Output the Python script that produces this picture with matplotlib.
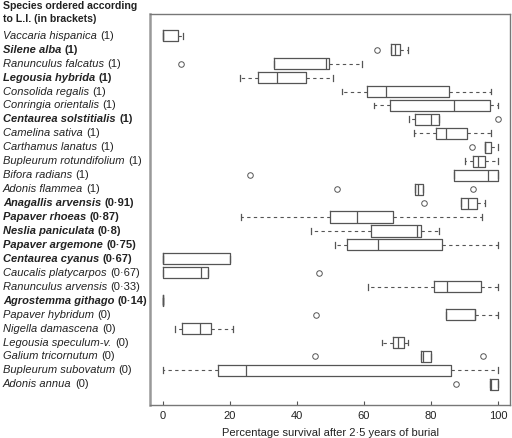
import matplotlib
matplotlib.use("Agg")
import matplotlib.pyplot as plt
from matplotlib.transforms import blended_transform_factory

plt.rcParams['font.family'] = ['Liberation Sans', 'DejaVu Sans']

# species (top to bottom), L.I. value and whether printed bold
species = ["Vaccaria hispanica", "Silene alba", "Ranunculus falcatus", "Legousia hybrida",
           "Consolida regalis", "Conringia orientalis", "Centaurea solstitialis",
           "Camelina sativa", "Carthamus lanatus", "Bupleurum rotundifolium",
           "Bifora radians", "Adonis flammea", "Anagallis arvensis", "Papaver rhoeas",
           "Neslia paniculata", "Papaver argemone", "Centaurea cyanus",
           "Caucalis platycarpos", "Ranunculus arvensis", "Agrostemma githago",
           "Papaver hybridum", "Nigella damascena", "Legousia speculum-v.",
           "Galium tricornutum", "Bupleurum subovatum", "Adonis annua"]
li = ["1", "1", "1", "1", "1", "1", "1", "1", "1", "1", "1", "1", "0·91", "0·87",
      "0·8", "0·75", "0·67", "0·67", "0·33", "0·14", "0", "0", "0", "0", "0", "0"]
bold = [False, True, False, True, False, False, True, False, False, False, False, False,
        True, True, True, True, True, False, False, True, False, False, False, False,
        False, False]

# box statistics (% survival)
whislo = [0, 68, 33.3, 23.1, 53.3, 63.1, 73.5, 75, 96, 90.1, 86.9, 75.1, 88.9, 23.4,
          44.1, 51.2, 0, 0, 61.1, 0, 84.3, 3.6, 65.2, 76.9, 0, 97.5]
q1 = [0, 68, 33.3, 28.5, 60.8, 67.8, 75.1, 81.3, 96, 92.6, 86.9, 75.1, 88.9, 49.9,
      62, 54.8, 0, 0, 80.8, 0, 84.3, 5.6, 68.7, 76.9, 16.6, 97.5]
med = [0, 69.3, 48.6, 34.2, 66.6, 86.9, 80.1, 84.3, 96, 94, 97, 76.1, 91, 58,
       75.9, 64.2, 0, 11.4, 84.7, 0, 93, 11.1, 70.2, 77.5, 24.8, 97.8]
q3 = [4.5, 70.8, 49.5, 42.8, 85.3, 97.6, 82.4, 90.7, 97.8, 96, 100, 77.6, 93.7, 68.5,
      77, 83.3, 19.9, 13.6, 94.8, 0, 93.1, 14.3, 71.9, 80, 85.9, 100]
whishi = [6, 73, 59.5, 50.6, 97.8, 100, 82.4, 97.8, 100, 99.8, 100, 77.6, 96.1, 95.1,
          82.4, 100, 19.9, 13.6, 100, 0, 100, 20.8, 73.2, 80, 100, 100]
fliers = [[], [64], [5.3], [], [], [], [99.9], [], [92.3], [], [26.1], [51.8, 92.6],
          [77.9], [], [], [], [], [46.6], [], [], [45.8], [], [], [45.5, 95.6], [], [87.4]]

stats = []
for i in range(len(species)):
    stats.append(dict(whislo=whislo[i], q1=q1[i], med=med[i], q3=q3[i],
                      whishi=whishi[i], fliers=fliers[i]))

fig = plt.figure(figsize=(5.12, 4.38), dpi=100)
ax = fig.add_axes([150 / 512, 33 / 438, 360 / 512, 391 / 438])

lc = '#555555'
pos = list(range(1, len(species) + 1))
ax.bxp(stats, positions=pos, vert=False, widths=0.8, capwidths=0.42,
       boxprops=dict(color=lc, linewidth=0.9),
       medianprops=dict(color=lc, linewidth=0.9),
       whiskerprops=dict(color=lc, linewidth=0.8, linestyle=(0, (3, 3))),
       capprops=dict(color=lc, linewidth=0.9),
       flierprops=dict(marker='o', markersize=4, markerfacecolor='none',
                       markeredgecolor=lc, markeredgewidth=0.7))

ax.set_ylim(27.48, -0.56)
ax.set_xlim(-3.8, 103.5)
ax.set_yticks([])
ax.set_xticks([0, 20, 40, 60, 80, 100])
ax.tick_params(axis='x', direction='in', labelsize=8, colors='#555555',
               labelcolor='#222222', length=3, width=0.8, pad=4)
for s in ax.spines.values():
    s.set_color('#777777')
    s.set_linewidth(1)
ax.spines['left'].set_color('#999999')
ax.spines['left'].set_linewidth(1.8)
ax.set_xlabel("Percentage survival after 2·5 years of burial", fontsize=8, labelpad=5,
              color='#222222')

trans = blended_transform_factory(fig.transFigure, ax.transData)
for i, name in enumerate(species):
    w = 'bold' if bold[i] else 'normal'
    t = ax.text(3 / 512, pos[i], name, transform=trans, fontsize=8, style='italic',
                weight=w, va='center', ha='left', color='#222222')
    ax.annotate("(" + li[i] + ")", xy=(1, 0.5), xycoords=t, xytext=(2.5, 0),
                textcoords='offset points', fontsize=8, weight=w, va='center',
                ha='left', color='#222222')

fig.text(3 / 512, 1 - 1 / 438, "Species ordered according\nto L.I. (in brackets)",
         fontsize=7.6, weight='bold', va='top', ha='left', color='#222222',
         linespacing=1.4)

fig.savefig("out.png", dpi=100)
